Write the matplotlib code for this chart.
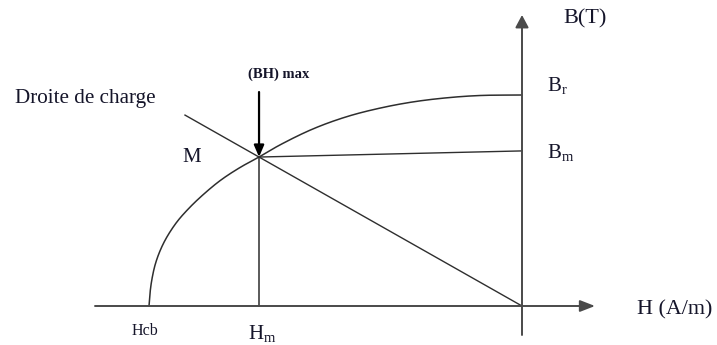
import matplotlib
matplotlib.use("Agg")
import matplotlib.pyplot as plt
import numpy as np

# Demagnetization curve B(H) in the second quadrant (normalized units)
curve_H = [-1.000, -0.9973, -0.9928, -0.9839, -0.9705, -0.9525, -0.9257,
           -0.8989, -0.8633, -0.8097, -0.7560, -0.7051, -0.6488, -0.5603,
           -0.4700, -0.3807, -0.2922, -0.2019, -0.1126, 0.000]
curve_B = [0.000, 0.0611, 0.1204, 0.1934, 0.2611, 0.3256, 0.3972,
           0.4521, 0.5142, 0.5938, 0.6564, 0.7060, 0.7635, 0.8393,
           0.8972, 0.9379, 0.9673, 0.9867, 0.9976, 1.000]

# Operating point and characteristic values
H_cb = -1.000
H_m = -0.705
B_M = 0.706
B_m = 0.735
B_r = 1.000
load_line_H_end = -0.9035

labels_H = ["Hcb", "H$_{\\mathregular{m}}$"]
labels_B = ["B$_{\\mathregular{r}}$", "B$_{\\mathregular{m}}$"]


def smooth_through(xs, ys, n=30, alpha=0.5):
    """Centripetal Catmull-Rom path passing through every given point."""
    p = np.column_stack([xs, ys]).astype(float)
    p = np.vstack([2 * p[0] - p[1], p, 2 * p[-1] - p[-2]])
    out = []
    for i in range(1, len(p) - 2):
        p0, p1, p2, p3 = p[i - 1], p[i], p[i + 1], p[i + 2]
        t0 = 0.0
        t1 = t0 + np.linalg.norm(p1 - p0) ** alpha
        t2 = t1 + np.linalg.norm(p2 - p1) ** alpha
        t3 = t2 + np.linalg.norm(p3 - p2) ** alpha
        t = np.linspace(t1, t2, n, endpoint=False)[:, None]
        a1 = (t1 - t) / (t1 - t0) * p0 + (t - t0) / (t1 - t0) * p1
        a2 = (t2 - t) / (t2 - t1) * p1 + (t - t1) / (t2 - t1) * p2
        a3 = (t3 - t) / (t3 - t2) * p2 + (t - t2) / (t3 - t2) * p3
        b1 = (t2 - t) / (t2 - t0) * a1 + (t - t0) / (t2 - t0) * a2
        b2 = (t3 - t) / (t3 - t1) * a2 + (t - t1) / (t3 - t1) * a3
        c = (t2 - t) / (t2 - t1) * b1 + (t - t1) / (t2 - t1) * b2
        out.append(c)
    out.append(p[-2][None, :])
    out = np.vstack(out)
    return out[:, 0], out[:, 1]


W, H = 717, 345
fig = plt.figure(figsize=(W / 100, H / 100), dpi=100)
ax = fig.add_axes([0, 0, 1, 1])

# pixel mapping: x = 522 + 373*H, y = 306 - 211*B
sx, sy = 373.0, 211.0
ax.set_xlim(-522 / sx, (W - 522) / sx)
ax.set_ylim(-(H - 306) / sy, 306 / sy)
ax.axis("off")

serif = ["Liberation Serif", "DejaVu Serif"]
txt_col = "#15152a"
axis_col = "#4a4a4a"
line_col = "#2e2e2e"

# Axes with arrows
ax.annotate("", xy=(73 / sx, 0), xytext=(-427 / sx, 0),
            arrowprops=dict(arrowstyle="-|>,head_length=0.9,head_width=0.35",
                            color=axis_col, lw=1.4, shrinkA=0, shrinkB=0,
                            facecolor="black"))
ax.annotate("", xy=(0, 291 / sy), xytext=(0, -29 / sy),
            arrowprops=dict(arrowstyle="-|>,head_length=0.75,head_width=0.4",
                            color=axis_col, lw=1.4, shrinkA=0, shrinkB=0,
                            facecolor="black"))

# Demagnetization curve (smoothed in pixel-proportional space)
cx, cy = smooth_through(np.array(curve_H) * sx, np.array(curve_B) * sy)
ax.plot(cx / sx, cy / sy, color=line_col, lw=1.1, solid_capstyle="round")

# Load line through origin and M
slope = B_M / H_m
ax.plot([0, load_line_H_end], [0, slope * load_line_H_end], color=line_col, lw=1.0)

# Segment from M to B_m
ax.plot([H_m, 0], [B_M, B_m], color=line_col, lw=1.0)

# Vertical from M to H_m
ax.plot([H_m, H_m], [0, B_M], color=line_col, lw=1.1)

# (BH)max arrow
ax.annotate("", xy=(H_m, B_M), xytext=(H_m, B_M + 65 / sy),
            arrowprops=dict(arrowstyle="-|>,head_length=0.7,head_width=0.3",
                            color="black", lw=1.6, shrinkA=0, shrinkB=0))

# Text labels
ax.text((248 - 522) / sx, (306 - 74) / sy, "(BH) max", family=serif,
        fontsize=10.5, fontweight="bold", color=txt_col, ha="left", va="center")
ax.text((15 - 522) / sx, (306 - 99) / sy, "Droite de charge", family=serif,
        fontsize=15.2, color=txt_col, ha="left", va="center")
ax.text((182 - 522) / sx, (306 - 157) / sy, "M", family=serif,
        fontsize=15, color=txt_col, ha="left", va="center")
ax.text((563 - 522) / sx, (306 - 19) / sy, "B(T)", family=serif,
        fontsize=16, color=txt_col, ha="left", va="center")
ax.text((547 - 522) / sx, B_r + 9 / sy, labels_B[0], family=serif,
        fontsize=15, color=txt_col, ha="left", va="center")
ax.text((547 - 522) / sx, B_m - 2 / sy, labels_B[1], family=serif,
        fontsize=15, color=txt_col, ha="left", va="center")
ax.text((637 - 522) / sx, -4 / sy, "H (A/m)", family=serif,
        fontsize=15.8, color=txt_col, ha="left", va="center")
ax.text(H_cb - 17 / sx, -25 / sy, labels_H[0], family=serif,
        fontsize=11.5, color=txt_col, ha="left", va="center")
ax.text(H_m - 11 / sx, -28 / sy, labels_H[1], family=serif,
        fontsize=15, color=txt_col, ha="left", va="center")

fig.savefig("out.png", dpi=100)
